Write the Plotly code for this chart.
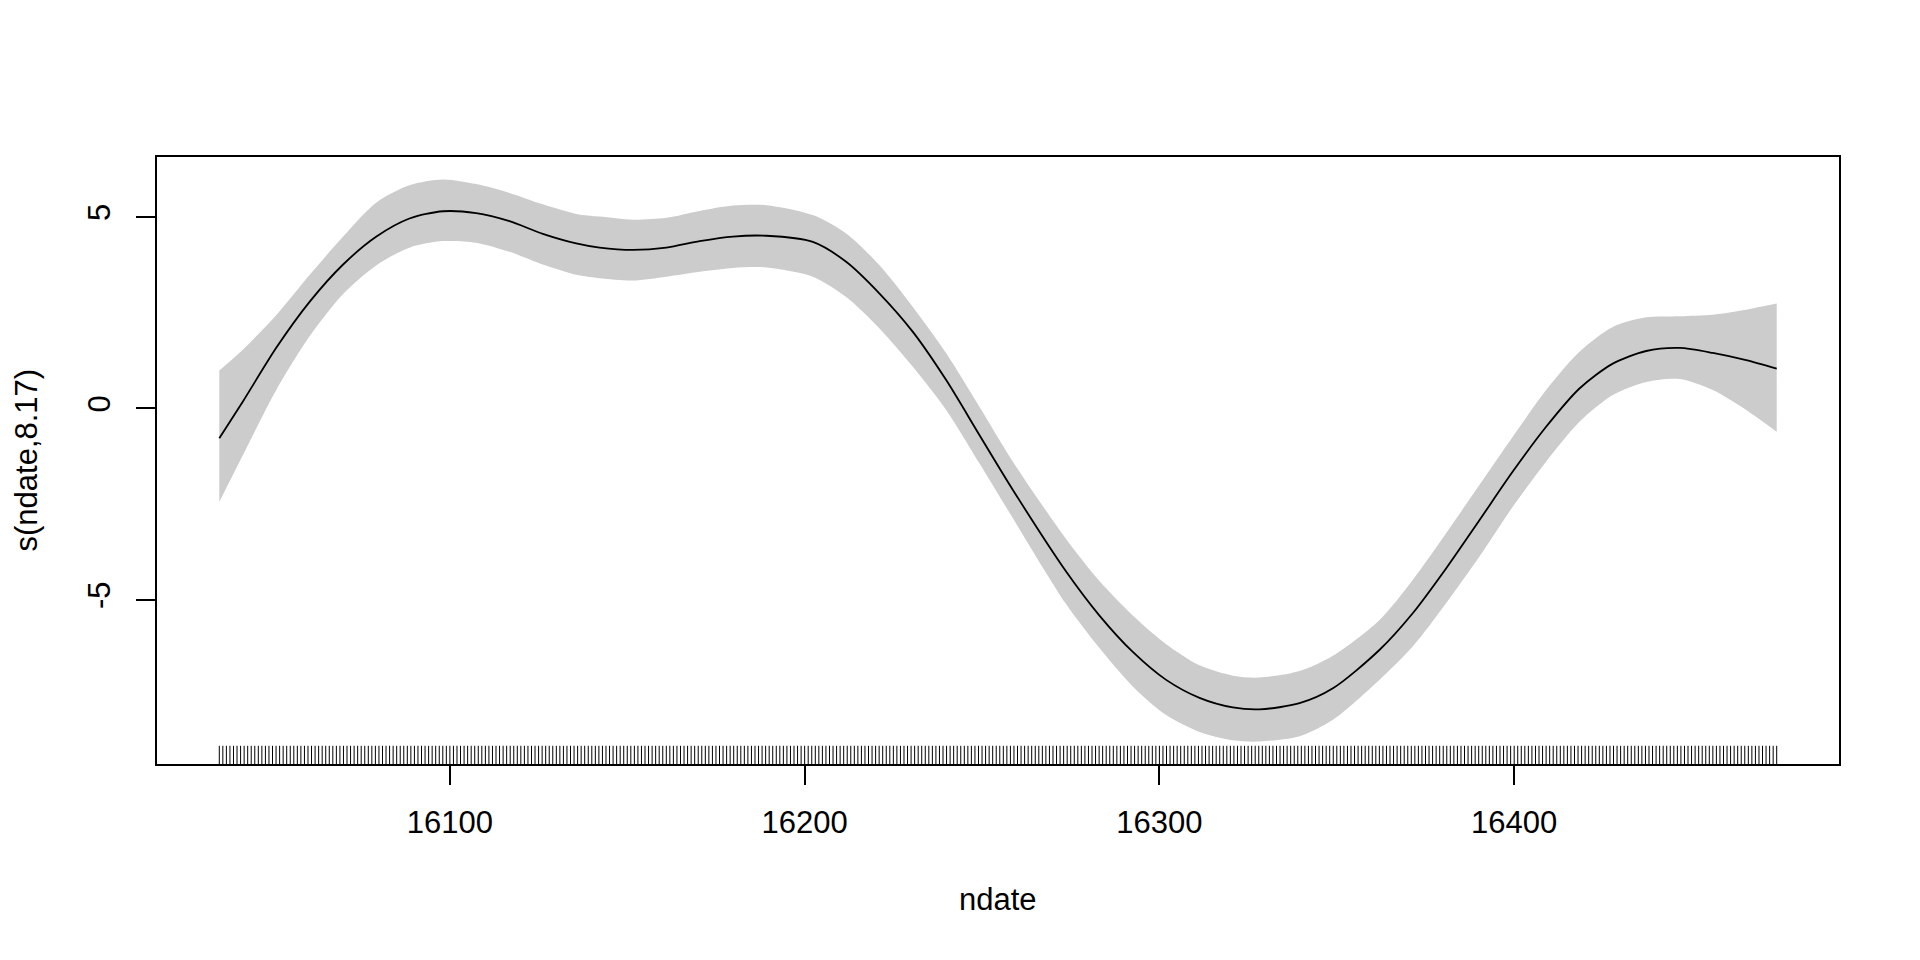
import plotly.graph_objects as go

# ---- data ----
ndate = [16035.0, 16041.7, 16051.1, 16060.5, 16069.9, 16079.3, 16088.6, 16098.1, 16107.4, 16116.8,
         16126.2, 16135.6, 16142.2, 16151.6, 16161.0, 16170.4, 16179.8, 16189.2,
         16202.3, 16211.7, 16221.1, 16230.5, 16239.9, 16249.3, 16258.7,
         16273.7, 16283.1, 16292.5, 16301.9, 16311.3, 16320.7, 16328.2, 16339.5, 16348.9,
         16362.0, 16371.4, 16380.8, 16390.2, 16399.6, 16409.0, 16418.4, 16427.8, 16437.2,
         16446.6, 16456.0, 16465.4, 16474.0]

fit = [-0.78, 0.19, 1.59, 2.79, 3.76, 4.49, 4.96, 5.15, 5.10, 4.89,
       4.56, 4.31, 4.20, 4.14, 4.20, 4.37, 4.49, 4.51,
       4.35, 3.83, 3.00, 2.00, 0.74, -0.70, -2.13,
       -4.26, -5.41, -6.36, -7.09, -7.56, -7.81, -7.86, -7.70, -7.31,
       -6.31, -5.35, -4.18, -2.92, -1.65, -0.48, 0.52, 1.17, 1.50,
       1.58, 1.45, 1.26, 1.04]

upper = [0.99, 1.54, 2.44, 3.49, 4.49, 5.38, 5.83, 5.98, 5.86, 5.63,
         5.33, 5.08, 5.01, 4.93, 4.98, 5.16, 5.30, 5.31,
         5.05, 4.57, 3.74, 2.65, 1.44, 0.04, -1.39,
         -3.41, -4.51, -5.41, -6.16, -6.71, -6.98, -7.03, -6.86, -6.46,
         -5.53, -4.48, -3.26, -2.00, -0.74, 0.48, 1.48, 2.13, 2.38,
         2.41, 2.45, 2.58, 2.74]

lower = [-2.44, -1.21, 0.49, 1.89, 2.99, 3.74, 4.20, 4.37, 4.33, 4.09,
         3.76, 3.49, 3.40, 3.34, 3.44, 3.57, 3.67, 3.68,
         3.44, 2.91, 2.09, 1.09, -0.04, -1.44, -2.87,
         -5.11, -6.26, -7.26, -8.01, -8.45, -8.67, -8.70, -8.56, -8.13,
         -7.09, -6.22, -5.09, -3.87, -2.57, -1.39, -0.35, 0.35, 0.69,
         0.77, 0.48, -0.04, -0.61]

# observation dates (rug): one per day
rug_dates = list(range(16035, 16475))

x_ticks = [16100, 16200, 16300, 16400]
y_ticks = [-5, 0, 5]
x_title = "ndate"
y_title = "s(ndate,8.17)"

# ---- axis ranges as in R (4% expansion) ----
xmin, xmax = min(rug_dates), max(rug_dates)
xpad = 0.04 * (xmax - xmin)
ymin, ymax = min(lower), max(upper)
ypad = 0.04 * (ymax - ymin)
xr = [xmin - xpad, xmax + xpad]
yr = [ymin - ypad, ymax + ypad]
rug_len = 0.03 * (yr[1] - yr[0])

FONT = "Liberation Sans"
PW, PH = 1682, 607          # plot area size in px
fig = go.Figure()

# confidence band (lower edge, then upper edge filled to it)
fig.add_trace(go.Scatter(
    x=ndate, y=lower, mode="lines",
    line=dict(width=0, color="#cccccc", shape="spline", smoothing=0.8),
    hoverinfo="skip", showlegend=False))
fig.add_trace(go.Scatter(
    x=ndate, y=upper, mode="lines", fill="tonexty", fillcolor="#cccccc",
    line=dict(width=0, color="#cccccc", shape="spline", smoothing=0.8),
    hoverinfo="skip", showlegend=False))

# fitted smooth
fig.add_trace(go.Scatter(
    x=ndate, y=fit, mode="lines",
    line=dict(color="black", width=1.8, shape="spline", smoothing=0.8),
    showlegend=False))

# rug
rx, ry = [], []
for d in rug_dates:
    rx += [d, d, None]
    ry += [yr[0], yr[0] + rug_len, None]
fig.add_trace(go.Scatter(x=rx, y=ry, mode="lines",
                         line=dict(color="black", width=1), hoverinfo="skip", showlegend=False))

fig.update_layout(
    width=1904, height=944,
    margin=dict(l=149, r=1904 - 149 - PW, t=149, b=944 - 149 - PH),
    paper_bgcolor="white", plot_bgcolor="white",
    font=dict(family=FONT, size=31, color="black"),
    xaxis=dict(range=xr, tickvals=x_ticks, ticktext=[str(v) for v in x_ticks],
               showgrid=False, zeroline=False, showline=True, linecolor="black", linewidth=1.5,
               mirror=True, ticks="outside", ticklen=19, tickwidth=1.5, tickcolor="black",
               tickfont=dict(family=FONT, size=31, color="black"), ticklabelstandoff=11),
    yaxis=dict(range=yr, tickvals=y_ticks, ticktext=[str(v) for v in y_ticks],
               showgrid=False, zeroline=False, showline=True, linecolor="black", linewidth=1.5,
               mirror=True, ticks="outside", ticklen=19, tickwidth=1.5, tickcolor="black",
               tickangle=-90,
               tickfont=dict(family=FONT, size=31, color="black"), ticklabelstandoff=14),
    annotations=[
        dict(text=x_title, xref="paper", yref="paper", x=0.5, y=-135 / PH,
             xanchor="center", yanchor="middle", showarrow=False,
             font=dict(family=FONT, size=31, color="black")),
        dict(text=y_title, xref="paper", yref="paper", x=-131 / PW, y=0.5,
             xanchor="center", yanchor="middle", showarrow=False, textangle=-90,
             borderpad=0,
             font=dict(family=FONT, size=31, color="black")),
    ],
)

fig.write_html("out.html")
